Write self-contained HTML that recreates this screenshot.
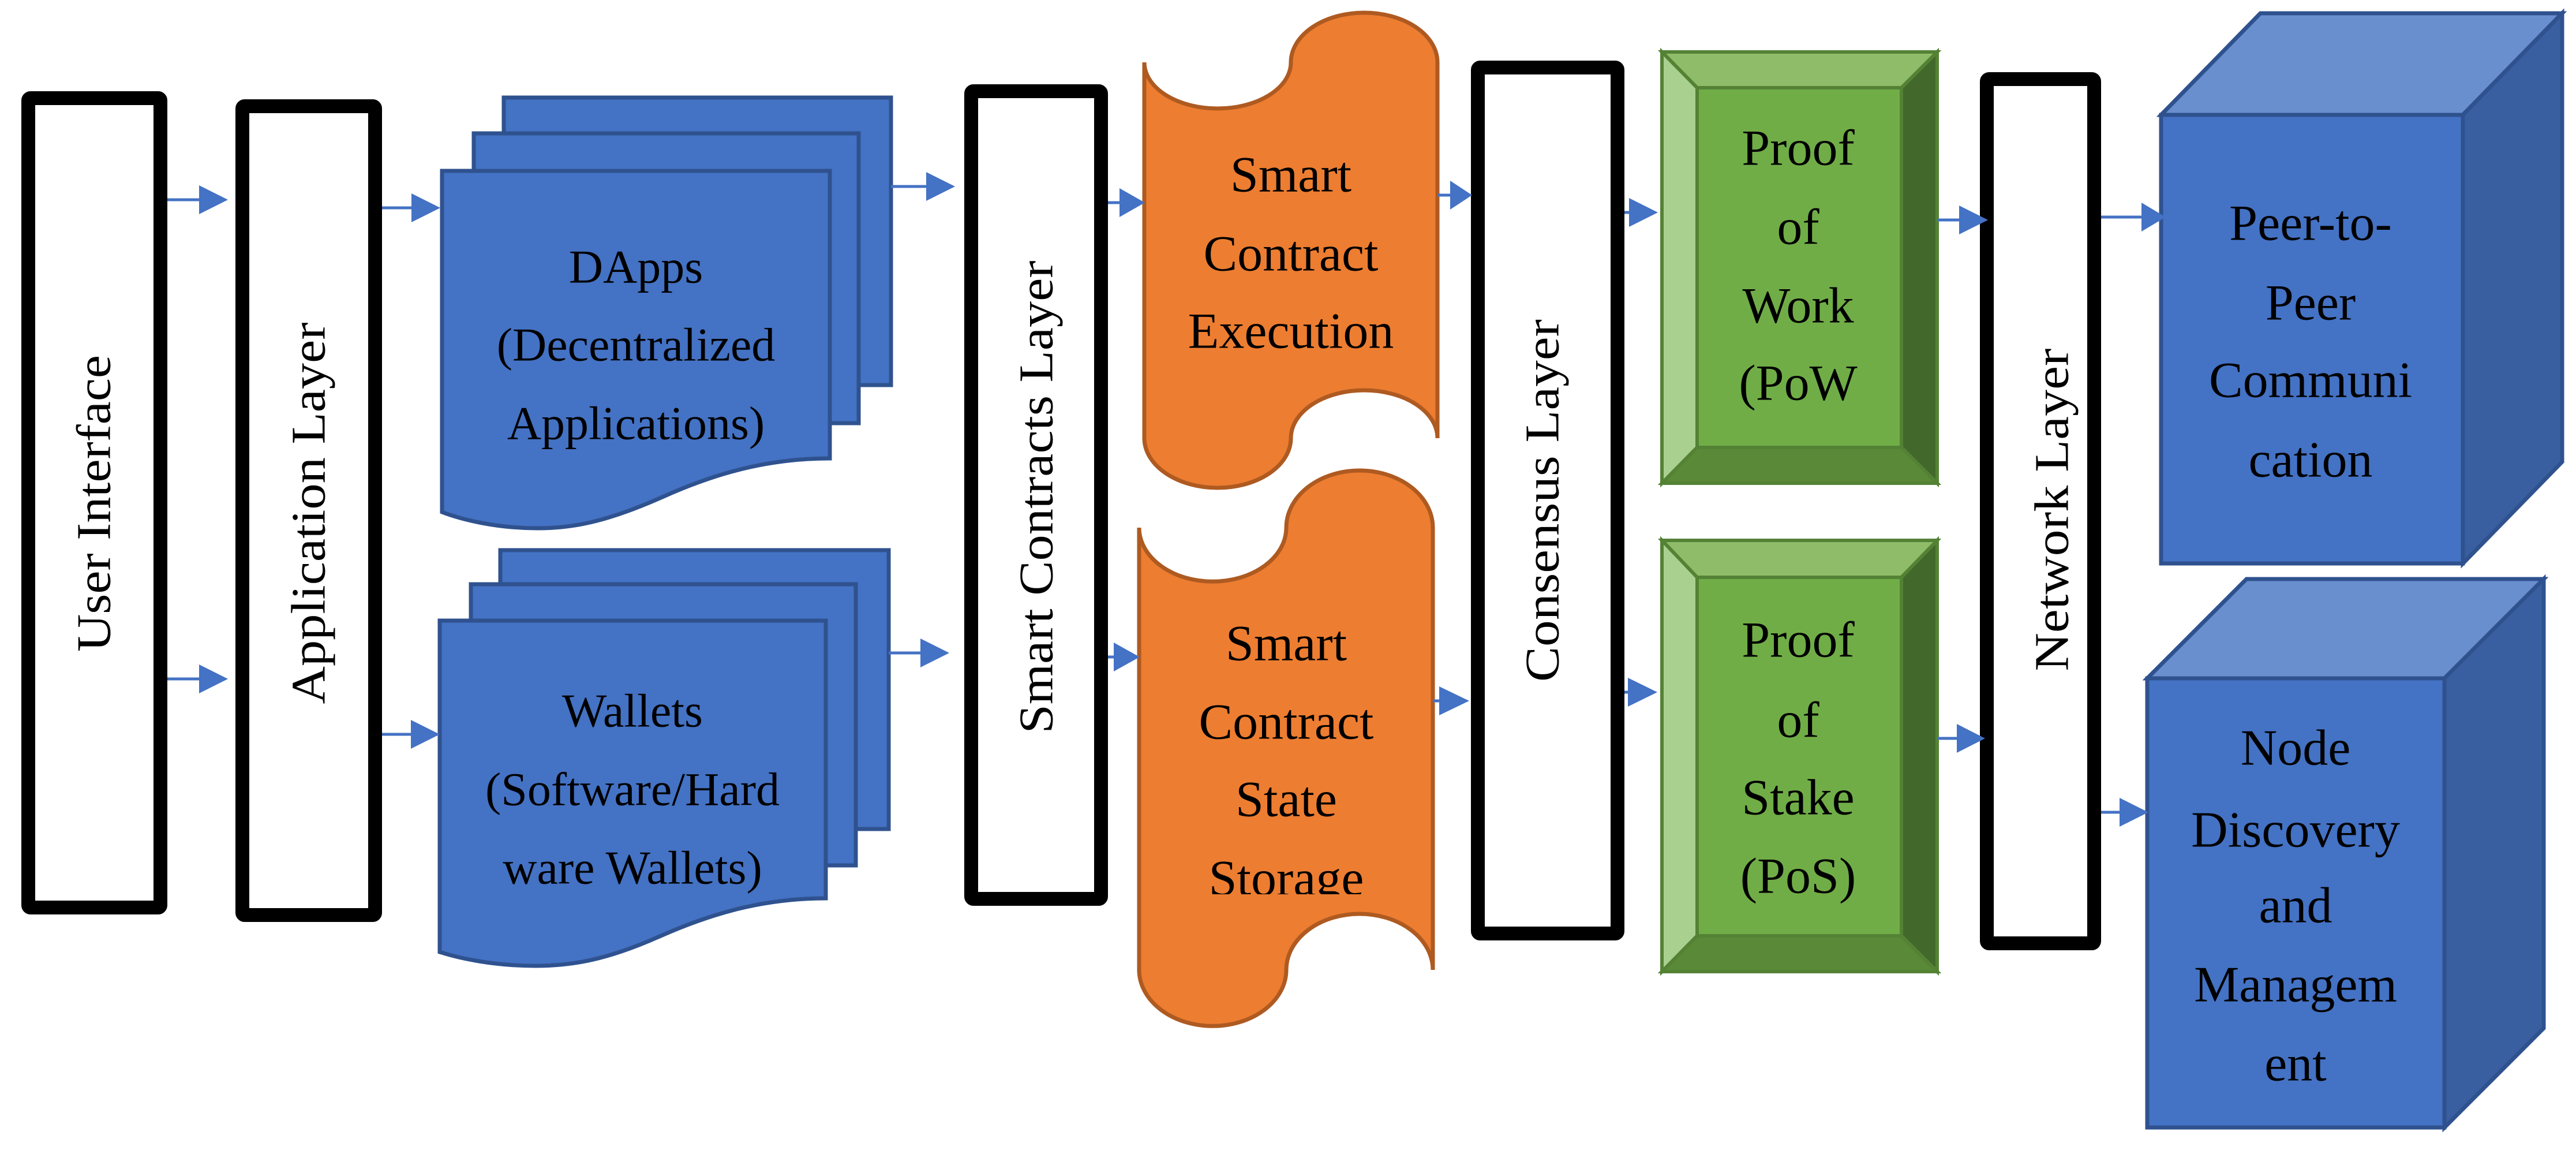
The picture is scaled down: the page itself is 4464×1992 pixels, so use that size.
<!DOCTYPE html>
<html><head><meta charset="utf-8"><style>
html,body{margin:0;padding:0;background:#fff}
svg{display:block}
svg text{font-family:"Liberation Serif","DejaVu Serif",serif;fill:#000}
</style></head><body>
<svg width="4464" height="1992" viewBox="0 0 4464 1992" xmlns="http://www.w3.org/2000/svg" font-family="Liberation Serif, DejaVu Serif, serif">
<defs><clipPath id="stc"><rect x="1900" y="1400" width="700" height="149"/></clipPath></defs>
<rect width="4464" height="1992" fill="#fff"/>

<g fill="#fff" stroke="#000" stroke-width="24" stroke-linejoin="round">
<rect x="49" y="170" width="229" height="1402" rx="4"/>
<rect x="420" y="184" width="230" height="1401" rx="4"/>
<rect x="1683" y="158" width="225" height="1399" rx="4"/>
<rect x="2561" y="117" width="242" height="1500" rx="4"/>
<rect x="3443" y="137" width="186" height="1497" rx="4"/>
</g>
<g font-size="84" text-anchor="middle" dominant-baseline="central" font-family="Liberation Serif, DejaVu Serif, serif">
<text transform="translate(163,872) rotate(-90)" textLength="514" lengthAdjust="spacingAndGlyphs">User Interface</text>
<text transform="translate(535,889) rotate(-90)" textLength="661" lengthAdjust="spacingAndGlyphs">Application Layer</text>
<text transform="translate(1796,861) rotate(-90)" textLength="819" lengthAdjust="spacingAndGlyphs">Smart Contracts Layer</text>
<text transform="translate(2673,867) rotate(-90)" textLength="628" lengthAdjust="spacingAndGlyphs">Consensus Layer</text>
<text transform="translate(3556,883) rotate(-90)" textLength="559" lengthAdjust="spacingAndGlyphs">Network Layer</text>
</g>

<g fill="#4472c4" stroke="#2f528f" stroke-width="7">
<rect x="873" y="169" width="671" height="498"/>
<rect x="821" y="231" width="667" height="502"/>
<path d="M766,296 H1438 V794 C1330,794 1240,820 1150,860 C1060,900 1000,915 932,915 C860,915 800,900 766,887 Z"/>
<rect x="867" y="953" width="673" height="483"/>
<rect x="816" y="1012" width="667" height="487"/>
<path d="M762,1075 H1431 V1556 C1323,1556 1233,1582 1143,1622 C1053,1662 993,1673 928,1673 C856,1673 796,1660 762,1649 Z"/>
</g>
<g font-size="82" text-anchor="middle" dominant-baseline="central" font-family="Liberation Serif, DejaVu Serif, serif">
<text x="1102" y="462">DApps</text>
<text x="1102" y="597">(Decentralized</text>
<text x="1102" y="733">Applications)</text>
<text x="1096" y="1231">Wallets</text>
<text x="1096" y="1367">(Software/Hard</text>
<text x="1096" y="1503">ware Wallets)</text>
</g>

<g fill="#ed7d31" stroke="#ae5a21" stroke-width="7">
<path d="M1983,108 A127,80 0 0 0 2237,108 A127,86 0 0 1 2491,108 L2491,759 A127,83 0 0 0 2237,759 A127,86 0 0 1 1983,759 Z"/>
<path d="M1974,914 A127,93 0 0 0 2229,914 A127,99 0 0 1 2483,914 L2483,1680 A127,97 0 0 0 2229,1680 A127,97 0 0 1 1974,1680 Z"/>
</g>
<g font-size="88" text-anchor="middle" dominant-baseline="central" font-family="Liberation Serif, DejaVu Serif, serif">
<text x="2237" y="303">Smart</text>
<text x="2237" y="440">Contract</text>
<text x="2237" y="574">Execution</text>
<text x="2229" y="1115">Smart</text>
<text x="2229" y="1251">Contract</text>
<text x="2229" y="1385">State</text>
<text x="2229" y="1522" clip-path="url(#stc)">Storage</text>
</g>

<g stroke="#548235" stroke-width="6" stroke-linejoin="miter">
<polygon points="2880,90 3357,90 3295,152 2941,152" fill="#8fbc69"/>
<polygon points="2880,90 2941,152 2941,775 2880,837" fill="#a9d08e"/>
<polygon points="3357,90 3357,837 3295,775 3295,152" fill="#43682b"/>
<polygon points="2880,837 2941,775 3295,775 3357,837" fill="#5a8a37"/>
<rect x="2941" y="152" width="354" height="623" fill="#70ad47"/>
<polygon points="2880,936 3357,936 3295,1000 2941,1000" fill="#8fbc69"/>
<polygon points="2880,936 2941,1000 2941,1621 2880,1683" fill="#a9d08e"/>
<polygon points="3357,936 3357,1683 3295,1621 3295,1000" fill="#43682b"/>
<polygon points="2880,1683 2941,1621 3295,1621 3357,1683" fill="#5a8a37"/>
<rect x="2941" y="1000" width="354" height="621" fill="#70ad47"/>
</g>
<g font-size="88" text-anchor="middle" dominant-baseline="central" font-family="Liberation Serif, DejaVu Serif, serif">
<text x="3116" y="257">Proof</text>
<text x="3116" y="394">of</text>
<text x="3116" y="530">Work</text>
<text x="3116" y="664">(PoW</text>
<text x="3116" y="1109">Proof</text>
<text x="3116" y="1248">of</text>
<text x="3116" y="1382">Stake</text>
<text x="3116" y="1518">(PoS)</text>
</g>

<g stroke="#2f528f" stroke-width="7" stroke-linejoin="miter">
<polygon points="3745,199 3917,23 4440,23 4268,199" fill="#6a8fcf"/>
<polygon points="4268,199 4440,23 4440,800 4268,976" fill="#3a5fa0"/>
<rect x="3745" y="199" width="523" height="777" fill="#4472c4"/>
<polygon points="3721,1175 3893,1003 4408,1003 4236,1175" fill="#6a8fcf"/>
<polygon points="4236,1175 4408,1003 4408,1781 4236,1953" fill="#3a5fa0"/>
<rect x="3721" y="1175" width="515" height="778" fill="#4472c4"/>
</g>
<g font-size="88" text-anchor="middle" dominant-baseline="central" font-family="Liberation Serif, DejaVu Serif, serif">
<text x="4004" y="387">Peer-to-</text>
<text x="4004" y="525">Peer</text>
<text x="4004" y="659">Communi</text>
<text x="4004" y="797">cation</text>
<text x="3978" y="1296">Node</text>
<text x="3978" y="1438">Discovery</text>
<text x="3978" y="1569">and</text>
<text x="3978" y="1706">Managem</text>
<text x="3978" y="1843">ent</text>
</g>

<g stroke="#4472c4" stroke-width="5">
<line x1="290" y1="346" x2="350" y2="346"/>
<line x1="290" y1="1176" x2="350" y2="1176"/>
<line x1="662" y1="360" x2="718" y2="360"/>
<line x1="662" y1="1272" x2="717" y2="1272"/>
<line x1="1544" y1="323" x2="1610" y2="323"/>
<line x1="1540" y1="1131" x2="1600" y2="1131"/>
<line x1="1920" y1="351" x2="1945" y2="351"/>
<line x1="1920" y1="1138" x2="1935" y2="1138"/>
<line x1="2491" y1="338" x2="2518" y2="338"/>
<line x1="2483" y1="1214" x2="2499" y2="1214"/>
<line x1="2815" y1="368" x2="2828" y2="368"/>
<line x1="2815" y1="1199" x2="2826" y2="1199"/>
<line x1="3357" y1="381" x2="3400" y2="381"/>
<line x1="3357" y1="1279" x2="3396" y2="1279"/>
<line x1="3641" y1="376" x2="3716" y2="376"/>
<line x1="3641" y1="1407" x2="3678" y2="1407"/>
</g>
<g fill="#4472c4">
<polygon points="345,321 395,346 345,371"/>
<polygon points="345,1151 395,1176 345,1201"/>
<polygon points="713,335 763,360 713,385"/>
<polygon points="712,1247 762,1272 712,1297"/>
<polygon points="1605,298 1655,323 1605,348"/>
<polygon points="1595,1106 1645,1131 1595,1156"/>
<polygon points="1940,326 1984,351 1940,376"/>
<polygon points="1930,1113 1975,1138 1930,1163"/>
<polygon points="2513,313 2551,338 2513,363"/>
<polygon points="2494,1189 2546,1214 2494,1239"/>
<polygon points="2823,343 2873,368 2823,393"/>
<polygon points="2821,1174 2872,1199 2821,1224"/>
<polygon points="3395,356 3445,381 3395,406"/>
<polygon points="3391,1254 3440,1279 3391,1304"/>
<polygon points="3711,351 3753,376 3711,401"/>
<polygon points="3673,1382 3723,1407 3673,1432"/>
</g>
</svg>
</body></html>
